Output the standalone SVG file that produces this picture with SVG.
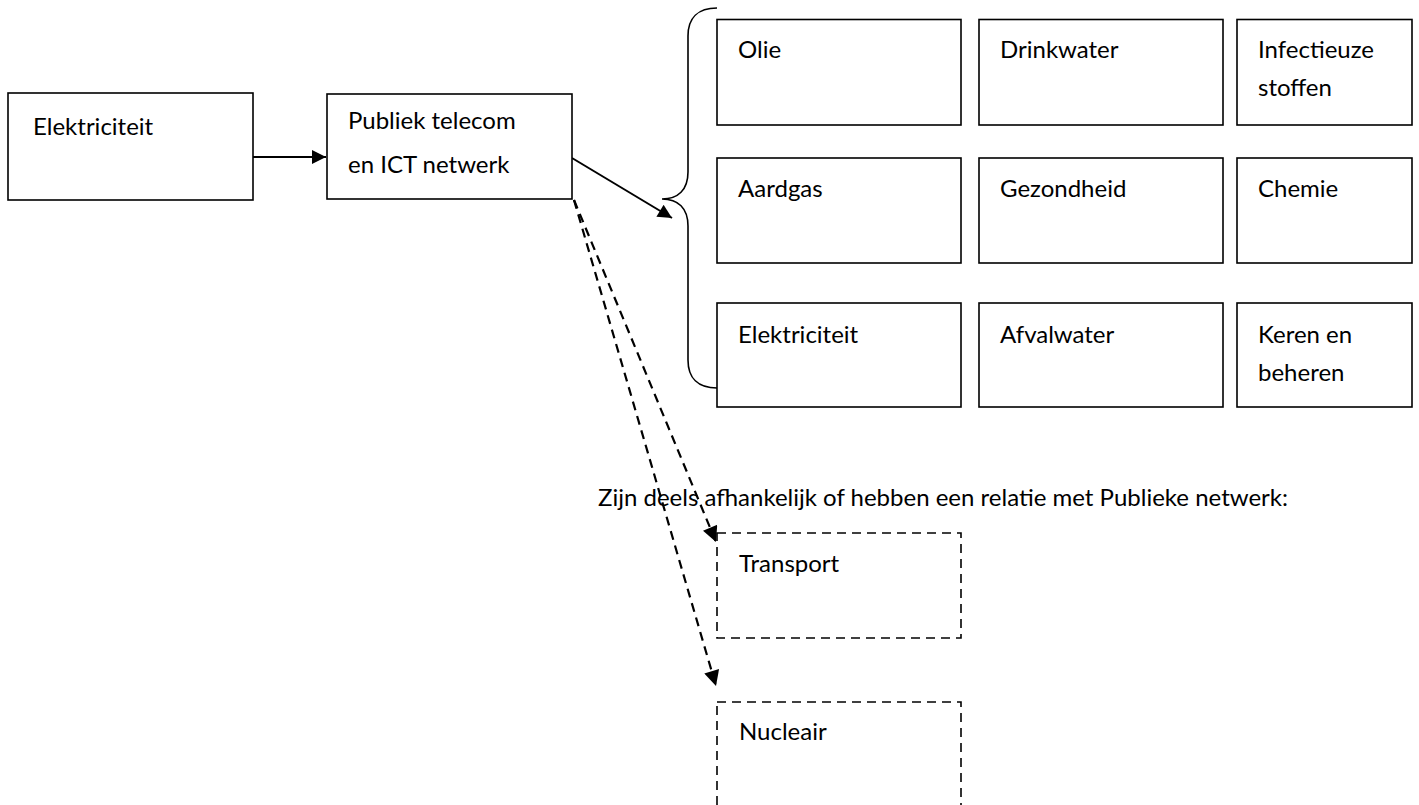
<svg xmlns="http://www.w3.org/2000/svg" width="1419" height="805" viewBox="0 0 1419 805">
  <style>
    .box { fill: #ffffff; stroke: #000000; stroke-width: 1.6; }
    .dbox { fill: none; stroke: #000000; stroke-width: 1.6; stroke-dasharray: 9 6; }
    .lbl { font-family: Lato, "Liberation Sans", sans-serif; font-size: 24px; fill: #000000; }
    .solid { fill: none; stroke: #000000; stroke-width: 2; }
    .dash { fill: none; stroke: #000000; stroke-width: 2.2; stroke-dasharray: 9 6; }
    .brace { fill: none; stroke: #000000; stroke-width: 1.6; }
  </style>
  <defs>
    <marker id="head" viewBox="0 0 10 10" refX="10" refY="5" markerWidth="8" markerHeight="7" markerUnits="strokeWidth" orient="auto">
      <path d="M0,0 L10,5 L0,10 Z" fill="#000000"/>
    </marker>
  </defs>
  <rect width="1419" height="805" fill="#ffffff"/>

  <!-- arrows between the sectors -->
  <g id="connectors">
    <line class="solid" x1="253" y1="157" x2="326" y2="157" marker-end="url(#head)"/>
    <line class="solid" x1="572" y1="158" x2="672" y2="218" marker-end="url(#head)"/>
    <line class="dash" x1="574" y1="200" x2="716" y2="542" marker-end="url(#head)"/>
    <line class="dash" x1="574" y1="200" x2="716" y2="686" marker-end="url(#head)"/>
  </g>

  <!-- curly brace grouping the dependent sectors -->
  <g id="brace">
    <path class="brace" d="M717,8 C698,8 688,18 688,36 L688,172 C688,190 678,199 662,199 C678,199 688,208 688,226 L688,360 C688,378 698,388 717,388"/>
  </g>

  <g id="elektriciteit-bron">
    <rect class="box" x="8" y="93" width="245" height="107"/>
    <text class="lbl" x="33" y="135">Elektriciteit</text>
  </g>
  <g id="publiek-telecom">
    <rect class="box" x="327" y="94" width="245" height="105"/>
    <text class="lbl" x="348" y="129">Publiek telecom</text>
    <text class="lbl" x="348" y="173">en ICT netwerk</text>
  </g>

  <g id="olie">
    <rect class="box" x="717" y="19.5" width="244" height="105.5"/>
    <text class="lbl" x="738" y="58">Olie</text>
  </g>
  <g id="drinkwater">
    <rect class="box" x="979" y="19.5" width="244" height="105.5"/>
    <text class="lbl" x="1000" y="58">Drinkwater</text>
  </g>
  <g id="infectieuze-stoffen">
    <rect class="box" x="1237" y="19.5" width="175" height="105.5"/>
    <text class="lbl" x="1258" y="58">Infectieuze</text>
    <text class="lbl" x="1258" y="96">stoffen</text>
  </g>

  <g id="aardgas">
    <rect class="box" x="717" y="158" width="244" height="105"/>
    <text class="lbl" x="738" y="197">Aardgas</text>
  </g>
  <g id="gezondheid">
    <rect class="box" x="979" y="158" width="244" height="105"/>
    <text class="lbl" x="1000" y="197">Gezondheid</text>
  </g>
  <g id="chemie">
    <rect class="box" x="1237" y="158" width="175" height="105"/>
    <text class="lbl" x="1258" y="197">Chemie</text>
  </g>

  <g id="elektriciteit">
    <rect class="box" x="717" y="303" width="244" height="104"/>
    <text class="lbl" x="738" y="343">Elektriciteit</text>
  </g>
  <g id="afvalwater">
    <rect class="box" x="979" y="303" width="244" height="104"/>
    <text class="lbl" x="1000" y="343">Afvalwater</text>
  </g>
  <g id="keren-en-beheren">
    <rect class="box" x="1237" y="303" width="175" height="104"/>
    <text class="lbl" x="1258" y="343">Keren en</text>
    <text class="lbl" x="1258" y="381">beheren</text>
  </g>

  <g id="toelichting">
    <text class="lbl" x="598" y="506">Zijn deels afhankelijk of hebben een relatie met Publieke netwerk:</text>
  </g>

  <g id="transport">
    <rect class="dbox" x="717" y="533" width="244" height="105"/>
    <text class="lbl" x="739" y="572">Transport</text>
  </g>
  <g id="nucleair">
    <rect class="dbox" x="717" y="702" width="244" height="130"/>
    <text class="lbl" x="739" y="740">Nucleair</text>
  </g>
</svg>
